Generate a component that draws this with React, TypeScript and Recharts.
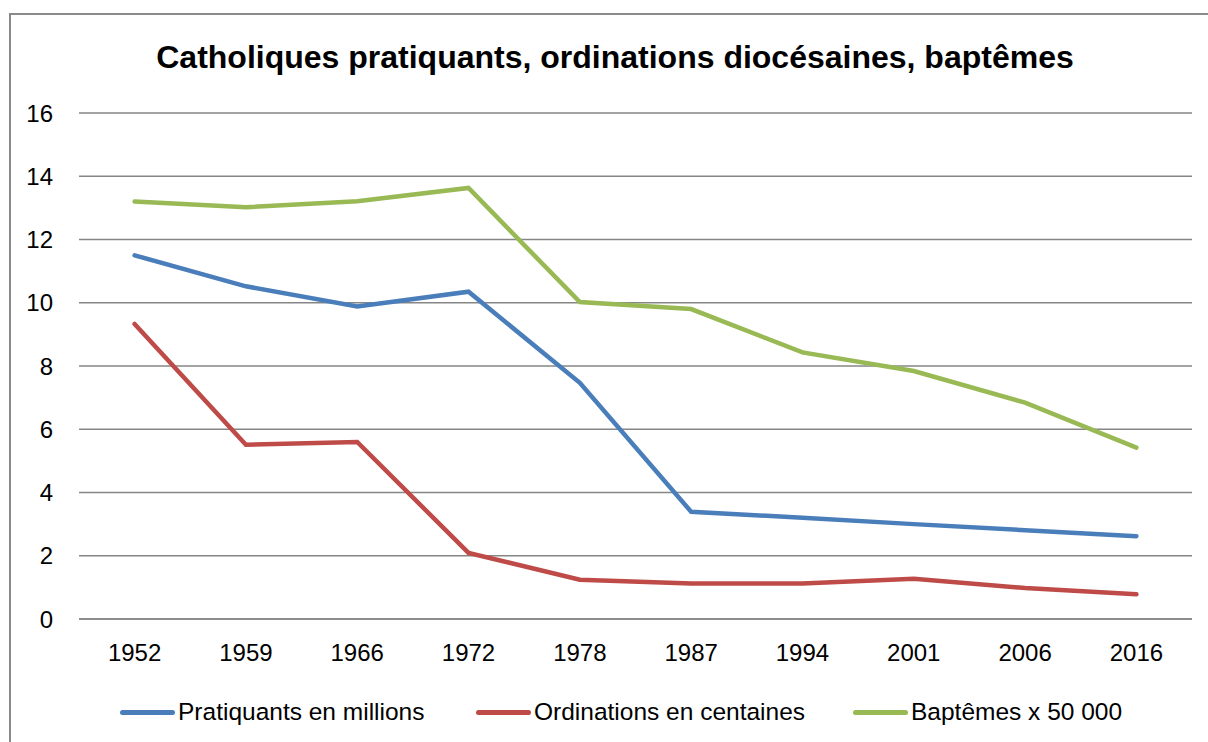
import React from 'react';
import { LineChart, Line, XAxis, YAxis, CartesianGrid, Legend } from 'recharts';

const years = ['1952', '1959', '1966', '1972', '1978', '1987', '1994', '2001', '2006', '2016'];
const pratiquants = [11.5, 10.52, 9.88, 10.35, 7.47, 3.39, 3.2, 3.0, 2.81, 2.62];
const ordinations = [9.33, 5.51, 5.6, 2.09, 1.24, 1.12, 1.12, 1.27, 0.98, 0.78];
const baptemes = [13.2, 13.02, 13.21, 13.63, 10.02, 9.8, 8.43, 7.84, 6.84, 5.42];
const yTicks = [0, 2, 4, 6, 8, 10, 12, 14, 16];

const seriesNames = ['Pratiquants en millions', 'Ordinations en centaines', 'Baptêmes x 50 000'];
const seriesColors = ['#4A7EBB', '#BE4B48', '#98B954'];
const legendLefts = [120, 476, 853];

const data = years.map((y, i) => ({
  year: y,
  p: pratiquants[i],
  o: ordinations[i],
  b: baptemes[i],
}));

const FONT = '"Liberation Sans", Arial, sans-serif';

const LegendContent = () => (
  <div style={{ position: 'relative', width: 1208, height: 24 }}>
    {seriesNames.map((n, i) => (
      <div
        key={n}
        style={{
          position: 'absolute',
          left: legendLefts[i],
          top: 0,
          height: 24,
          display: 'flex',
          alignItems: 'center',
          fontFamily: FONT,
          fontSize: 24.5,
          lineHeight: '24px',
          color: '#000',
          whiteSpace: 'nowrap',
        }}
      >
        <span
          style={{
            display: 'inline-block',
            width: 55,
            height: 5,
            borderRadius: 3,
            background: seriesColors[i],
            marginRight: 3,
          }}
        />
        <span>{n}</span>
      </div>
    ))}
  </div>
);

export default function App() {
  return (
    <div style={{ position: 'absolute', left: 0, top: 0, width: 1208, height: 742, overflow: 'hidden', background: '#fff' }}>
      <div
        style={{
          position: 'absolute',
          left: 9,
          top: 13,
          width: 1400,
          height: 900,
          border: '2px solid #8a8a8a',
          boxSizing: 'border-box',
        }}
      />
      <div
        style={{
          position: 'absolute',
          left: 0,
          width: 1230,
          top: 41,
          textAlign: 'center',
          fontFamily: FONT,
          fontWeight: 'bold',
          fontSize: 32,
          lineHeight: '32px',
          color: '#000',
          whiteSpace: 'nowrap',
        }}
      >
        Catholiques pratiquants, ordinations diocésaines, baptêmes
      </div>
      <div style={{ position: 'absolute', left: 0, top: 0 }}>
        <LineChart
          width={1208}
          height={742}
          data={data}
          margin={{ top: 113, right: 16, bottom: 93, left: 0 }}
        >
          <CartesianGrid vertical={false} stroke="#868686" strokeWidth={1.5} />
          <XAxis
            dataKey="year"
            height={30}
            padding={{ left: 55.6, right: 55.6 }}
            axisLine={{ stroke: '#868686', strokeWidth: 1.5 }}
            tickLine={false}
            tickSize={0}
            tickMargin={25}
            tick={{ fill: '#000', fontSize: 24, fontFamily: FONT }}
          />
          <YAxis
            width={79}
            domain={[0, 16]}
            ticks={yTicks}
            axisLine={false}
            tickLine={false}
            tickSize={0}
            tickMargin={26}
            tick={{ fill: '#000', fontSize: 24, fontFamily: FONT }}
          />
          <Legend
            verticalAlign="middle"
            content={<LegendContent />}
            wrapperStyle={{ position: 'absolute', left: 0, top: 700, width: 1208 }}
          />
          <Line type="linear" dataKey="p" name={seriesNames[0]} stroke={seriesColors[0]} strokeWidth={4.5} dot={false} strokeLinecap="round" isAnimationActive={false} />
          <Line type="linear" dataKey="o" name={seriesNames[1]} stroke={seriesColors[1]} strokeWidth={4.5} dot={false} strokeLinecap="round" isAnimationActive={false} />
          <Line type="linear" dataKey="b" name={seriesNames[2]} stroke={seriesColors[2]} strokeWidth={4.5} dot={false} strokeLinecap="round" isAnimationActive={false} />
        </LineChart>
      </div>
    </div>
  );
}
